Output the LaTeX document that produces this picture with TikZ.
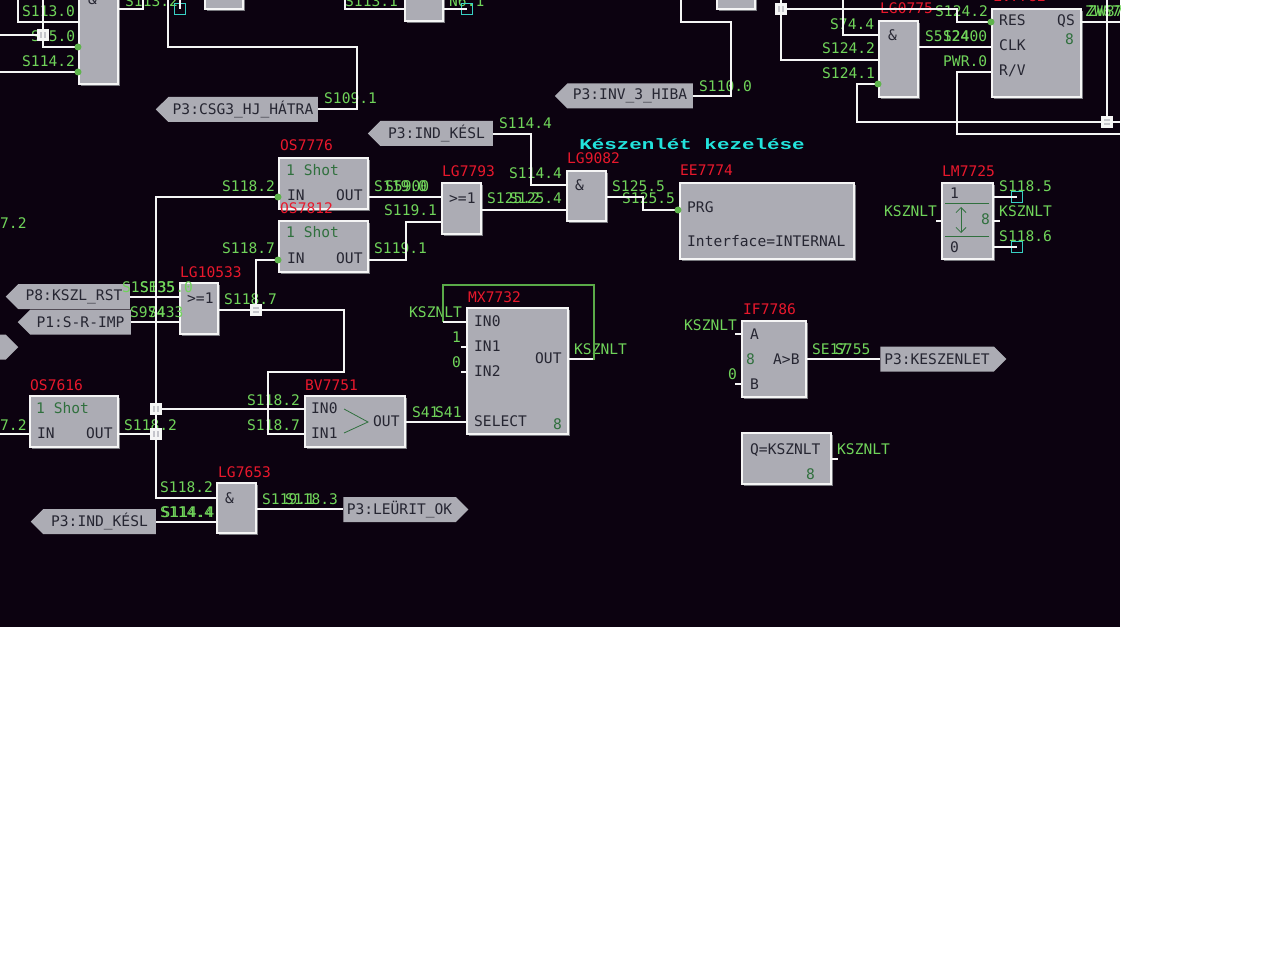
\documentclass[tikz,border=0pt]{standalone}
\usepackage{fontspec}
\setmainfont{DejaVu Sans Mono}
\newfontfamily\titlefont{Liberation Mono}
\usepackage{xcolor}
\usetikzlibrary{arrows.meta}
\usetikzlibrary{shapes.symbols,shadows}
\definecolor{panelbg}{RGB}{12,2,16}
\definecolor{blockgray}{RGB}{172,172,180}
\definecolor{blockedge}{RGB}{245,245,245}
\definecolor{shadegray}{RGB}{120,120,126}
\definecolor{siggreen}{RGB}{112,212,90}
\definecolor{idred}{RGB}{232,24,44}
\definecolor{inkgray}{RGB}{38,38,50}
\definecolor{valgreen}{RGB}{48,112,62}
\definecolor{teal}{RGB}{56,208,196}
\tikzset{
  txtsize/.style={font=\fontsize{14.6}{16}\selectfont,inner sep=0pt,anchor=west,
    text height=10pt,text depth=0pt},
  siglabel/.style={txtsize,text=siggreen},
  idlabel/.style={txtsize,text=idred},
  inktext/.style={txtsize,text=inkgray},
  valtext/.style={txtsize,text=valgreen},
  blockbox/.style={draw=blockedge,fill=blockgray,line width=2.4pt,outer sep=0pt,
    inner sep=0pt,drop shadow={shadow xshift=2pt,shadow yshift=-2pt,
    fill=shadegray,opacity=1}},
  tagbox/.style={signal,fill=blockgray,minimum height=25pt,inner sep=0pt,outer sep=0pt,
    text=inkgray,font=\fontsize{14.6}{16}\selectfont},
  wire/.style={draw=blockedge,line width=2.4pt},
  junction/.style={draw=blockedge,fill=blockgray!70!white,line width=2.4pt,
    minimum size=9pt,inner sep=0pt,outer sep=0pt},
  pindot/.style={circle,fill=siggreen!85!black,minimum size=7pt,inner sep=0pt},
  tealbox/.style={draw=teal,line width=1.4pt,minimum size=11pt,inner sep=0pt},
}
\newcounter{txtno}
\newcommand{\sig}[2]{\stepcounter{txtno}\node[siglabel] (sig\arabic{txtno}) at #1 {#2};}
\newcommand{\rid}[2]{\stepcounter{txtno}\node[idlabel] (rid\arabic{txtno}) at #1 {#2};}
\newcommand{\ink}[2]{\stepcounter{txtno}\node[inktext] (ink\arabic{txtno}) at #1 {#2};}
\newcommand{\val}[2]{\stepcounter{txtno}\node[valtext] (val\arabic{txtno}) at #1 {#2};}
\newcommand{\blk}[5]{%
  \node[blockbox,minimum width={#4-#2},minimum height={#5-#3}] (#1)
    at ({(#2+#4)/2},{(#3+#5)/2}) {};%
}
\begin{document}
\begin{tikzpicture}[x=1pt,y=-1pt]
    \useasboundingbox (0,0) rectangle (1280,960);
    \fill[panelbg] (0,0) rectangle (1120,627);
    \begin{scope}
    \clip (0,0) rectangle (1120,627);
    % blocks, top row
    \blk{ta}{79}{-30}{118}{84}
    \blk{tb}{205}{-30}{243}{9}
    \blk{tc}{405}{-30}{443}{21}
    \blk{td}{717}{-30}{755}{9}
    \blk{lg0775}{879}{21}{918}{97}
    \blk{lv}{992}{9}{1081}{97}
    % blocks, middle
    \blk{os7776}{279}{158}{368}{209}
    \blk{os7812}{279}{221}{368}{272}
    \blk{lg7793}{442}{183}{481}{234}
    \blk{lg9082}{567}{171}{606}{221}
    \blk{ee7774}{680}{183}{854}{259}
    \blk{lm7725}{942}{183}{993}{259}
    \blk{lg10533}{180}{283}{218}{334}
    \blk{os7616}{30}{396}{118}{447}
    \blk{bv7751}{305}{396}{405}{447}
    \blk{mx7732}{467}{308}{568}{434}
    \blk{lg7653}{217}{483}{256}{533}
    \blk{if7786}{742}{321}{806}{397}
    \blk{qbox}{742}{433}{831}{484}
    % tags
    \node[tagbox,signal to=west,minimum width=162pt] (csg) at (243,109.5) {P3:CSG3\_HJ\_HÁTRA};
    \node[tagbox,signal to=west,minimum width=138pt] (invh) at (630,96) {P3:INV\_3\_HIBA};
    \node[tagbox,signal to=west,minimum width=125pt] (kesla) at (436.5,133.5) {P3:IND\_KÉSL};
    \node[tagbox,signal to=west,minimum width=124pt] (rst) at (74,296.5) {P8:KSZL\_RST};
    \node[tagbox,signal to=west,minimum width=113pt] (imp) at (80.5,322) {P1:S-R-IMP};
    \node[tagbox,signal to=east,minimum width=40pt] (cut) at (-8,347) {};
    \node[tagbox,signal to=west,minimum width=125pt] (keslb) at (99.5,521.5) {P3:IND\_KÉSL};
    \node[tagbox,signal to=east,minimum width=125pt] (leur) at (399.5,509.5) {P3:LEÜRIT\_OK};
    \node[tagbox,signal to=east,minimum width=126pt] (kesz) at (937,359) {P3:KESZENLET};
    % title
    \node[font=\titlefont\bfseries\fontsize{15}{16}\selectfont,text=teal!60!cyan,xscale=1.39,
          transform shape,inner sep=0pt] (title) at (692,144) {Készenlét kezelése};
    % ids
    \rid{(280,146)}{OS7776}
    \rid{(280,209)}{OS7812}
    \rid{(442,172)}{LG7793}
    \rid{(567,159)}{LG9082}
    \rid{(680,171)}{EE7774}
    \rid{(942,172)}{LM7725}
    \rid{(880,9)}{LG0775}
    \rid{(993,-3)}{LV7782}
    \rid{(180,272)}{LG10533}
    \rid{(30,385)}{OS7616}
    \rid{(305,385)}{BV7751}
    \rid{(218,472)}{LG7653}
    \rid{(468,297)}{MX7732}
    \rid{(743,309)}{IF7786}
    % signal names, top
    \sig{(22,12)}{S113.0}
    \sig{(31,37)}{S35.0}
    \sig{(22,62)}{S114.2}
    \sig{(125,2)}{S113.2}
    \sig{(345,2)}{S113.1}
    \sig{(449,2)}{N6.1}
    \sig{(324,99)}{S109.1}
    \sig{(699,87)}{S110.0}
    \sig{(830,25)}{S74.4}
    \sig{(822,49)}{S124.2}
    \sig{(822,74)}{S124.1}
    \sig{(935,12)}{S124.2}
    \sig{(925,37)}{S5124}
    \sig{(943,37)}{S2400}
    \sig{(943,62)}{PWR.0}
    \sig{(1085,12)}{ZW67}
    \sig{(1088,12)}{ZW87}
    % signal names, middle
    \sig{(0,224)}{7.2}
    \sig{(222,187)}{S118.2}
    \sig{(222,249)}{S118.7}
    \sig{(374,187)}{S119.0}
    \sig{(385,187)}{S5900}
    \sig{(374,249)}{S119.1}
    \sig{(384,211)}{S119.1}
    \sig{(487,199)}{S125.2}
    \sig{(509,199)}{S125.4}
    \sig{(499,124)}{S114.4}
    \sig{(509,174)}{S114.4}
    \sig{(612,187)}{S125.5}
    \sig{(622,199)}{S125.5}
    \sig{(884,212)}{KSZNLT}
    \sig{(999,187)}{S118.5}
    \sig{(999,212)}{KSZNLT}
    \sig{(999,237)}{S118.6}
    \sig{(122,287)}{S1SE35}
    \sig{(140,287)}{S135.0}
    \sig{(130,312)}{S974}
    \sig{(148,312)}{S433}
    \sig{(224,300)}{S118.7}
    \sig{(0,425)}{7.2}
    \sig{(124,425)}{S118.2}
    \sig{(247,400)}{S118.2}
    \sig{(247,425)}{S118.7}
    \sig{(160,487)}{S118.2}
    \sig{(160,512)}{S114.4}
    \sig{(161.5,512)}{S114.4}
    \sig{(262,499)}{S119.1}
    \sig{(285,499)}{S118.3}
    \sig{(409,312)}{KSZNLT}
    \sig{(452,337)}{1}
    \sig{(452,362)}{0}
    \sig{(574,349)}{KSZNLT}
    \sig{(412,412)}{S41}
    \sig{(435,412)}{S41}
    \sig{(684,325)}{KSZNLT}
    \sig{(728,374)}{0}
    \sig{(812,349)}{SE17}
    \sig{(835,349)}{S755}
    \sig{(837,449)}{KSZNLT}
    % block texts
    \val{(286,171)}{1 Shot}
    \ink{(287,196)}{IN}
    \ink{(336,196)}{OUT}
    \val{(286,233)}{1 Shot}
    \ink{(287,258)}{IN}
    \ink{(336,258)}{OUT}
    \val{(36,408)}{1 Shot}
    \ink{(37,433)}{IN}
    \ink{(86,433)}{OUT}
    \ink{(449,199)}{>=1}
    \ink{(187,298)}{>=1}
    \ink{(575,186)}{\&}
    \ink{(225,498)}{\&}
    \ink{(888,36)}{\&}
    \ink{(88,0)}{\&}
    \ink{(687,208)}{PRG}
    \ink{(687,242)}{Interface=INTERNAL}
    \ink{(950,194)}{1}
    \ink{(950,247)}{0}
    \val{(981,220)}{8}
    \ink{(999,21)}{RES}
    \ink{(999,46)}{CLK}
    \ink{(999,71)}{R/V}
    \ink{(1057,21)}{QS}
    \val{(1065,40)}{8}
    \ink{(311,408)}{IN0}
    \ink{(311,433)}{IN1}
    \ink{(373,421)}{OUT}
    \ink{(474,321)}{IN0}
    \ink{(474,346)}{IN1}
    \ink{(474,371)}{IN2}
    \ink{(535,358)}{OUT}
    \ink{(474,421)}{SELECT}
    \val{(553,424)}{8}
    \ink{(750,334)}{A}
    \val{(746,359)}{8}
    \ink{(773,359)}{A>B}
    \ink{(750,384)}{B}
    \ink{(750,449)}{Q=KSZNLT}
    \val{(806,474)}{8}
    % marks inside blocks
    \draw[valgreen,thick] (945,203) -- (989,203);
    \draw[valgreen,thick] (945,236) -- (989,236);
    \draw[valgreen,thick,{Straight Barb[length=5pt]}-{Straight Barb[length=5pt]}] (961,207) -- (961,233);
    \draw[valgreen,thick] (344,409) -- (368,422) -- (344,433);
    % junctions
    \node[junction] (j1) at (43,35) {};
    \node[junction] (j2) at (781,9) {};
    \node[junction] (j3) at (1107,122) {};
    \node[junction] (j4) at (256,310) {};
    \node[junction] (j5) at (156,409) {};
    \node[junction] (j6) at (156,434) {};
    % open ends at the cut
    \coordinate (e1) at (0,35);
    \coordinate (e2) at (18,0);
    \coordinate (e3) at (0,72);
    \coordinate (e4) at (143,0);
    \coordinate (e5) at (168,0);
    \coordinate (e6) at (345,0);
    \coordinate (e7) at (681,0);
    \coordinate (e8) at (781,-5);
    \coordinate (e9) at (843,0);
    \coordinate (e10) at (1120,122);
    \coordinate (e11) at (1120,134);
    \coordinate (e12) at (1107,0);
    \coordinate (e13) at (1120,22);
    \coordinate (e14) at (0,434);
    \coordinate (e15) at (43,-5);
    \coordinate (e16) at (180,0);
    % teal boxes
    \node[tealbox] (t1) at (180,9) {};
    \node[tealbox] (t2) at (467,9) {};
    \node[tealbox] (t3) at (1017,197) {};
    \node[tealbox] (t4) at (1017,247) {};
    % wires, top
    \draw[wire] (e1) -- (j1.west);
    \draw[wire] (e15) -- (43,47) -- (ta.west |- 0,47);
    \draw[wire] (e2) -- (18,22) -- (ta.west |- 0,22);
    \draw[wire] (e3) -- (ta.west |- 0,72);
    \draw[wire] (ta.east |- 0,9) -- (143,9) -- (e4);
    \draw[wire] (e16) -- (t1.center);
    \draw[wire] (e5) -- (168,47) -- (357,47) -- (357,109) -- (csg.east |- 0,109);
    \draw[wire] (e6) -- (345,9) -- (tc.west |- 0,9);
    \draw[wire] (tc.east |- 0,9) -- (t2.center);
    \draw[wire] (e7) -- (681,22) -- (731,22) -- (731,96) -- (invh.east);
    \draw[wire] (e8) -- (781,60) -- (lg0775.west |- 0,60);
    \draw[wire] (j2.east) -- (957,9) -- (957,22) -- (lv.west |- 0,22);
    \draw[wire] (e9) -- (843,35) -- (lg0775.west |- 0,35);
    \draw[wire] (lg0775.east |- 0,47) -- (lv.west |- 0,47);
    \draw[wire] (lg0775.west |- 0,84) -- (857,84) -- (857,122) -- (e10);
    \draw[wire] (lv.west |- 0,72) -- (957,72) -- (957,134) -- (e11);
    \draw[wire] (e12) -- (j3.north);
    \draw[wire] (lv.east |- 0,22) -- (e13);
    % wires, middle
    \draw[wire] (os7776.west |- 0,197) -- (156,197) -- (156,498) -- (lg7653.west |- 0,498);
    \draw[wire] (e14) -- (os7616.west |- 0,434);
    \draw[wire] (os7616.east |- 0,434) -- (j6.west);
    \draw[wire] (j5.east) -- (bv7751.west |- 0,409);
    \draw[wire] (os7812.west |- 0,260) -- (256,260) -- (j4.north);
    \draw[wire] (lg10533.east |- 0,310) -- (344,310) -- (344,372) -- (268,372) -- (268,434) -- (bv7751.west |- 0,434);
    \draw[wire] (os7776.east |- 0,197) -- (lg7793.west |- 0,197);
    \draw[wire] (os7812.east |- 0,260) -- (406,260) -- (406,222) -- (lg7793.west |- 0,222);
    \draw[wire] (lg7793.east |- 0,210) -- (lg9082.west |- 0,210);
    \draw[wire] (kesla.east |- 0,134) -- (531,134) -- (531,185) -- (lg9082.west |- 0,185);
    \draw[wire] (lg9082.east |- 0,197) -- (643,197) -- (643,210) -- (ee7774.west |- 0,210);
    \draw[wire] (rst.east |- 0,297) -- (lg10533.west |- 0,297);
    \draw[wire] (imp.east |- 0,322) -- (lg10533.west |- 0,322);
    \draw[wire] (keslb.east |- 0,522) -- (lg7653.west |- 0,522);
    \draw[wire] (lg7653.east |- 0,509) -- (leur.west |- 0,509);
    \draw[wire] (bv7751.east |- 0,422) -- (mx7732.west |- 0,422);
    \draw[wire] (mx7732.east |- 0,359) -- (593,359);
    \draw[siggreen!80!black,line width=2.4pt] (594,360) -- (594,285) -- (443,285) -- (443,322);
    \draw[wire] (443,322) -- (mx7732.west |- 0,322);
    \draw[wire] (461,347) -- (mx7732.west |- 0,347);
    \draw[wire] (461,372) -- (mx7732.west |- 0,372);
    \draw[wire] (936,221) -- (lm7725.west |- 0,221);
    \draw[wire] (lm7725.east |- 0,197) -- (t3.center);
    \draw[wire] (lm7725.east |- 0,221) -- (1000,221);
    \draw[wire] (lm7725.east |- 0,247) -- (t4.center);
    \draw[wire] (735,334) -- (if7786.west |- 0,334);
    \draw[wire] (735,384) -- (if7786.west |- 0,384);
    \draw[wire] (if7786.east |- 0,359) -- (kesz.west |- 0,359);
    \draw[wire] (qbox.east |- 0,459) -- (838,459);
    % pin dots
    \node[pindot] (d1) at (78,47) {};
    \node[pindot] (d2) at (78,72) {};
    \node[pindot] (d3) at (991,22) {};
    \node[pindot] (d4) at (878,84) {};
    \node[pindot] (d5) at (278,197) {};
    \node[pindot] (d6) at (278,260) {};
    \node[pindot] (d7) at (678,210) {};
    \end{scope}
\end{tikzpicture}
\end{document}
